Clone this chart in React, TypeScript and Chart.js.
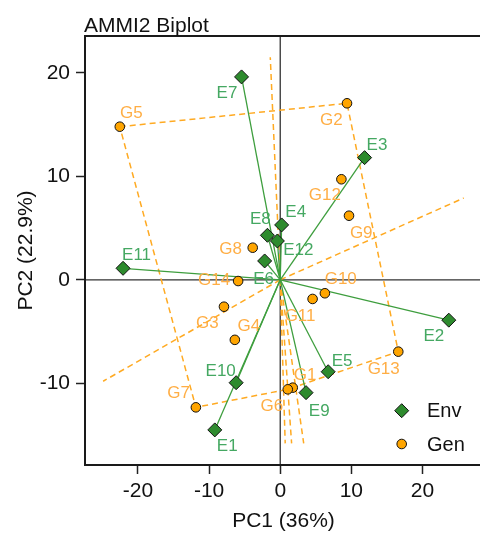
import React, { useEffect, useRef } from "react";
import { Chart, registerables } from "chart.js";

Chart.register(...registerables);

const envNames = ["E1", "E2", "E3", "E4", "E5", "E6", "E7", "E8", "E9", "E10", "E11", "E12"];
const envX = [-9.2, 23.7, 11.86, 0.2, 6.74, -2.19, -5.44, -1.8, 3.63, -6.2, -22.1, -0.4];
const envY = [-14.5, -3.9, 11.8, 5.3, -8.88, 1.82, 19.6, 4.3, -10.9, -9.94, 1.11, 3.75];
const envLabelX = [-7.45, 21.6, 13.6, 2.18, 8.69, -2.33, -7.49, -2.79, 5.48, -8.37, -20.2, 2.55];
const envLabelY = [-16.1, -5.5, 13.0, 6.48, -7.91, 0, 18.04, 5.84, -12.67, -8.81, 2.4, 2.88];

const genNames = ["G1", "G2", "G3", "G4", "G5", "G6", "G7", "G8", "G9", "G10", "G11", "G12", "G13", "G14"];
const genX = [1.76, 9.39, -7.91, -6.38, -22.56, 1.06, -11.86, -3.87, 9.67, 6.28, 4.55, 8.6, 16.6, -5.92];
const genY = [-10.42, 17.05, -2.6, -5.8, 14.79, -10.58, -12.32, 3.1, 6.19, -1.3, -1.85, 9.71, -6.94, -0.12];
const genLabelX = [3.49, 7.2, -10.24, -4.42, -20.93, -1.17, -14.29, -6.98, 11.39, 8.51, 2.79, 6.28, 14.55, -9.31];
const genLabelY = [-9.2, 15.37, -4.2, -4.46, 16.1, -12.26, -10.96, 2.95, 4.49, 0, -3.56, 8.19, -8.64, -0.09];

const hullOrder = ["G5", "G2", "G13", "G1", "G6", "G7"];
const rayX = [-1.4, 25.8, -24.9, 0.7, 1.6, 3.3];
const rayY = [21.5, 7.9, -9.8, -15.8, -15.8, -15.8];

const xTicks = [-20, -10, 0, 10, 20];
const yTicks = [-10, 0, 10, 20];

const ENV_FILL = "#2E8B2E";
const ENV_LINE = "#3E9E3E";
const ENV_TEXT = "#45A862";
const GEN_FILL = "#FFA500";
const GEN_LINE = "#FFAA22";
const GEN_TEXT = "#FFAE45";
const FONT = "'Liberation Sans', Arial, sans-serif";

const overlay = {
  id: "overlay",
  beforeDatasetsDraw(chart: any) {
    const { ctx, chartArea: a, scales } = chart;
    const x = scales.x, y = scales.y;
    ctx.save();
    ctx.strokeStyle = "#333";
    ctx.lineWidth = 1.3;
    const x0 = x.getPixelForValue(0), y0 = y.getPixelForValue(0);
    ctx.beginPath();
    ctx.moveTo(x0, a.top);
    ctx.lineTo(x0, a.bottom);
    ctx.moveTo(a.left, y0);
    ctx.lineTo(a.right, y0);
    ctx.stroke();
    ctx.restore();
  },
  afterDatasetsDraw(chart: any) {
    const { ctx, chartArea: a, scales } = chart;
    const x = scales.x, y = scales.y;
    ctx.save();
    ctx.textAlign = "center";
    ctx.textBaseline = "middle";
    ctx.font = `17px ${FONT}`;
    ctx.fillStyle = ENV_TEXT;
    envNames.forEach((n, i) => {
      ctx.fillText(n, x.getPixelForValue(envLabelX[i]), y.getPixelForValue(envLabelY[i]));
    });
    ctx.fillStyle = GEN_TEXT;
    genNames.forEach((n, i) => {
      ctx.fillText(n, x.getPixelForValue(genLabelX[i]), y.getPixelForValue(genLabelY[i]));
    });
    // box
    ctx.strokeStyle = "#1a1a1a";
    ctx.lineWidth = 2;
    ctx.strokeRect(a.left, a.top, a.right - a.left, a.bottom - a.top);
    // legend
    const lx = 401.7, ly1 = 410.7, ly2 = 444;
    ctx.beginPath();
    ctx.moveTo(lx - 7, ly1);
    ctx.lineTo(lx, ly1 - 7);
    ctx.lineTo(lx + 7, ly1);
    ctx.lineTo(lx, ly1 + 7);
    ctx.closePath();
    ctx.fillStyle = ENV_FILL;
    ctx.fill();
    ctx.lineWidth = 1;
    ctx.strokeStyle = "#111";
    ctx.stroke();
    ctx.beginPath();
    ctx.arc(lx, ly2, 4.8, 0, Math.PI * 2);
    ctx.fillStyle = GEN_FILL;
    ctx.fill();
    ctx.stroke();
    ctx.font = `20px ${FONT}`;
    ctx.fillStyle = "#111";
    ctx.textAlign = "left";
    ctx.fillText("Env", 427, ly1 + 1);
    ctx.fillText("Gen", 427, ly2 + 1);
    ctx.restore();
  },
  afterDraw(chart: any) {
    const { ctx, chartArea: a } = chart;
    ctx.save();
    ctx.fillStyle = "#111";
    ctx.font = `21px ${FONT}`;
    ctx.textAlign = "left";
    ctx.textBaseline = "alphabetic";
    ctx.fillText("AMMI2 Biplot", 84, 32);
    ctx.textAlign = "center";
    ctx.fillText("PC1 (36%)", (a.left + a.right) / 2, 527);
    ctx.translate(32, (a.top + a.bottom) / 2);
    ctx.rotate(-Math.PI / 2);
    ctx.fillText("PC2 (22.9%)", 0, 0);
    ctx.restore();
  },
};

export default function App() {
  const ref = useRef<HTMLCanvasElement>(null);
  useEffect(() => {
    document.body.style.margin = "0";
    const canvas = ref.current!;
    const datasets: any[] = [];
    datasets.push({
      type: "scatter",
      data: envX.map((v, i) => ({ x: v, y: envY[i] })),
      pointStyle: "rectRot",
      pointRadius: 7,
      backgroundColor: ENV_FILL,
      borderColor: "#111",
      borderWidth: 1,
      order: 0,
    });
    datasets.push({
      type: "scatter",
      data: genX.map((v, i) => ({ x: v, y: genY[i] })),
      pointStyle: "circle",
      pointRadius: 4.8,
      backgroundColor: GEN_FILL,
      borderColor: "#111",
      borderWidth: 1,
      order: 1,
    });
    envX.forEach((v, i) => {
      datasets.push({
        type: "line",
        data: [{ x: 0, y: 0 }, { x: v, y: envY[i] }],
        borderColor: ENV_LINE,
        borderWidth: 1.3,
        pointRadius: 0,
        fill: false,
        order: 2,
      });
    });
    const hullPts = hullOrder.map((n) => {
      const k = genNames.indexOf(n);
      return { x: genX[k], y: genY[k] };
    });
    hullPts.push(hullPts[0]);
    datasets.push({
      type: "line",
      data: hullPts,
      borderColor: GEN_LINE,
      borderWidth: 1.5,
      borderDash: [6, 4],
      pointRadius: 0,
      fill: false,
      order: 3,
    });
    rayX.forEach((v, i) => {
      datasets.push({
        type: "line",
        data: [{ x: 0, y: 0 }, { x: v, y: rayY[i] }],
        borderColor: GEN_LINE,
        borderWidth: 1.5,
        borderDash: [6, 4],
        pointRadius: 0,
        fill: false,
        order: 3,
      });
    });
    const tickFont = { family: FONT, size: 21 };
    const chart = new Chart(canvas, {
      type: "scatter",
      data: { datasets },
      options: {
        animation: false,
        responsive: false,
        devicePixelRatio: 1,
        layout: { padding: { top: 36, right: 5, left: 0, bottom: 0 } },
        plugins: { legend: { display: false }, tooltip: { enabled: false }, title: { display: false } },
        scales: {
          x: {
            type: "linear",
            min: -27.45,
            max: 28.37,
            afterBuildTicks: (s: any) => {
              s.ticks = xTicks.map((v) => ({ value: v }));
            },
            afterFit: (s: any) => {
              s.height = 68;
            },
            border: { display: false },
            grid: { drawOnChartArea: false, drawTicks: true, tickLength: 9, tickColor: "#222", tickWidth: 1.5 },
            ticks: { font: tickFont, color: "#111", padding: 5, maxRotation: 0, autoSkip: false },
          },
          y: {
            type: "linear",
            min: -17.89,
            max: 23.55,
            afterBuildTicks: (s: any) => {
              s.ticks = yTicks.map((v) => ({ value: v }));
            },
            afterFit: (s: any) => {
              s.width = 85;
            },
            border: { display: false },
            grid: { drawOnChartArea: false, drawTicks: true, tickLength: 9, tickColor: "#222", tickWidth: 1.5 },
            ticks: { font: tickFont, color: "#111", padding: 6, autoSkip: false },
          },
        },
      },
      plugins: [overlay],
    } as any);
    return () => chart.destroy();
  }, []);
  return (
    <div style={{ position: "fixed", left: 0, top: 0, width: 480, height: 533, overflow: "hidden", background: "#fff" }}>
      <canvas ref={ref} width={490} height={533} style={{ display: "block", width: 490, height: 533 }} />
    </div>
  );
}
